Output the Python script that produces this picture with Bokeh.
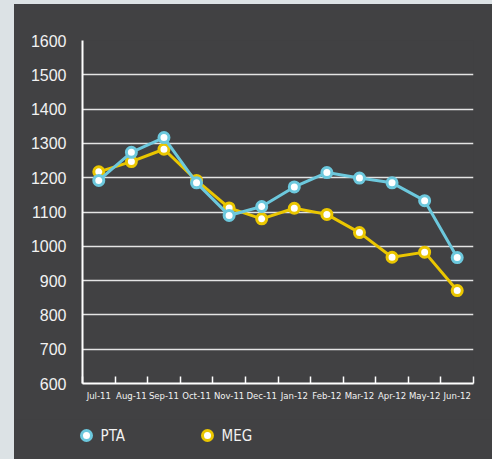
from bokeh.plotting import figure
from bokeh.models import (Range1d, LinearAxis, FixedTicker, Spacer, Row, Column)
from bokeh.core.properties import value
from bokeh.embed import file_html
from bokeh.resources import INLINE

months = ["Jul-11", "Aug-11", "Sep-11", "Oct-11", "Nov-11", "Dec-11",
          "Jan-12", "Feb-12", "Mar-12", "Apr-12", "May-12", "Jun-12"]
pta = [1192, 1274, 1317, 1185, 1090, 1116, 1173, 1215, 1199, 1185, 1133, 967]
meg = [1217, 1247, 1283, 1192, 1112, 1080, 1111, 1093, 1040, 968, 983, 871]
y_ticks = [600, 700, 800, 900, 1000, 1100, 1200, 1300, 1400, 1500, 1600]
series_names = ["PTA", "MEG"]

BG = "#414143"
CYAN = "#6cc8dd"
YELLOW = "#eac600"
TXT = "#f2f2f2"
PAGE = "#dce2e5"
COND = "DejaVu Sans Condensed, Liberation Sans"

n = len(months)
xc = [i + 0.5 for i in range(n)]          # category band centres
edges = list(range(n + 1))                # category band boundaries

W = 478
H_MAIN = 415
H_LEG = 40

p = figure(width=W, height=H_MAIN, output_backend="svg", toolbar_location=None,
           x_range=Range1d(0, n), y_range=Range1d(y_ticks[0], y_ticks[-1]),
           x_axis_location=None, y_axis_location=None,
           min_border_left=68, min_border_right=19, min_border_top=36, min_border_bottom=36)
p.background_fill_color = BG
p.border_fill_color = BG
p.outline_line_color = None

# y axis
yax = LinearAxis(ticker=FixedTicker(ticks=y_ticks))
yax.axis_line_color = "white"
yax.axis_line_width = 2
yax.major_tick_line_color = None
yax.minor_tick_line_color = None
yax.major_label_text_color = TXT
yax.major_label_text_font = "Liberation Sans"
yax.major_label_text_font_size = "16px"
yax.major_label_standoff = 10
p.add_layout(yax, "left")

# x axis: labels at band centres, tick marks at band boundaries
xax = LinearAxis(ticker=FixedTicker(ticks=xc, minor_ticks=edges))
xax.major_label_overrides = {x: m for x, m in zip(xc, months)}
xax.axis_line_color = "white"
xax.axis_line_width = 2
xax.major_tick_line_color = None
xax.major_tick_in = 0
xax.major_tick_out = 0
xax.minor_tick_line_color = "white"
xax.minor_tick_line_width = 1.5
xax.minor_tick_in = 7
xax.minor_tick_out = 0
xax.major_label_text_color = TXT
xax.major_label_text_font = COND
xax.major_label_text_font_size = "9.5px"
xax.major_label_standoff = 6
p.add_layout(xax, "below")

p.xgrid.visible = False
p.ygrid.ticker = FixedTicker(ticks=y_ticks)
p.ygrid.grid_line_color = "#e4e4e4"
p.ygrid.grid_line_width = 1.5

p.line(xc, meg, line_color=YELLOW, line_width=3)
p.scatter(xc, meg, size=10, fill_color="white", line_color=YELLOW, line_width=3)
p.line(xc, pta, line_color=CYAN, line_width=3)
p.scatter(xc, pta, size=10, fill_color="white", line_color=CYAN, line_width=3)

# legend strip (pixel coordinates)
lg = figure(width=W, height=H_LEG, output_backend="svg", toolbar_location=None,
            x_range=Range1d(0, W), y_range=Range1d(H_LEG, 0),
            x_axis_location=None, y_axis_location=None,
            min_border_left=0, min_border_right=0, min_border_top=0, min_border_bottom=0)
lg.background_fill_color = BG
lg.border_fill_color = BG
lg.outline_line_color = None
lg.xgrid.visible = False
lg.ygrid.visible = False
lg.xgrid.grid_line_color = None
lg.ygrid.grid_line_color = None
leg_x = [72, 193]
leg_y = [16, 16]
lg.scatter(leg_x, leg_y, size=10, fill_color="white", line_color=[CYAN, YELLOW], line_width=3)
lg.text([x + 14 for x in leg_x], leg_y, text=series_names, text_color=TXT,
        text_font=value(COND), text_font_size="15px", text_baseline="middle", text_align="left")

top = Spacer(width=492, height=4, styles={"background-color": PAGE})
left = Spacer(width=14, height=H_MAIN + H_LEG, styles={"background-color": PAGE})
right_col = Column(p, Row(lg, spacing=0, styles={"background-color": BG}),
                   spacing=0, styles={"background-color": BG})
layout = Column(top, Row(left, right_col, spacing=0), spacing=0)

open("out.html", "w").write(file_html(layout, INLINE))
